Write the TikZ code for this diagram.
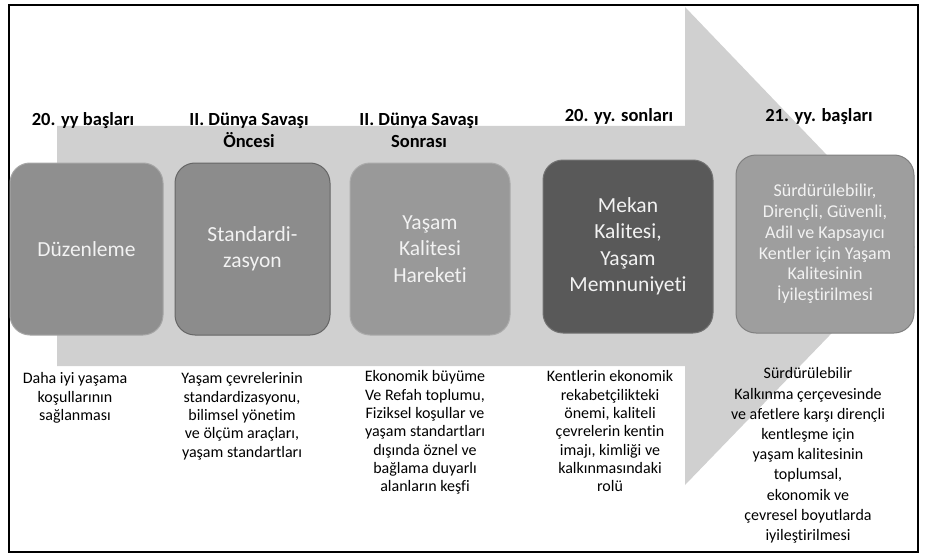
\documentclass[tikz,border=0pt]{standalone}
\usepackage{fontspec}
\setmainfont{Carlito}[Ligatures=NoCommon]
\usetikzlibrary{calc}
\definecolor{bggray}{RGB}{208,208,208}
\definecolor{boxtext}{RGB}{242,242,242}

\begin{document}
\begin{tikzpicture}[x=1pt, y=-1pt,
  box/.style={rounded corners=20pt, line width=1pt, align=center, text=boxtext,
    inner sep=0pt, font=\fontsize{21.5}{26.5}\selectfont},
  head/.style={anchor=north, align=center, inner sep=0pt,
    font=\fontsize{18.5}{22}\selectfont\bfseries},
  desc/.style={anchor=north, align=center, inner sep=0pt,
    font=\fontsize{16}{18.3}\selectfont}]

\useasboundingbox (0,0) rectangle (926,559);
\draw[line width=2pt] (8.5,5.5) rectangle (917.5,551.5);

% big arrow
\fill[bggray] (57,126) -- (685,126) -- (685,7) -- (915,247) -- (685,485)
  -- (685,366) -- (57,366) -- cycle;

\node[head] (h1) at (83,112) {20. yy başları};
\node[head] (h2) at (249,113) {II. Dünya Savaşı\\Öncesi};
\node[head] (h3) at (419,113) {II. Dünya Savaşı\\Sonrası};
\node[head] (h4) at (619,108) {20. yy. sonları};
\node[head] (h5) at (819,108) {21. yy. başları};

\node[box, fill=black!44, draw=black!35, minimum width=153pt, minimum height=172pt]
  (b1) at (86.5,249) {Düzenleme};
\node[box, fill=black!45, draw=black!60, minimum width=155pt, minimum height=172pt]
  (b2) at (252.5,249) {Standardi-\\zasyon};
\node[box, fill=black!40, draw=black!33, minimum width=160pt, minimum height=172pt]
  (b3) at (430,249) {Yaşam\\Kalitesi\\Hareketi};
\node[box, fill=black!65, draw=black!55, minimum width=170pt, minimum height=173pt]
  (b4) at (628,246.5) {Mekan\\Kalitesi,\\Yaşam\\Memnuniyeti};
\node[box, fill=black!38, draw=black!50, minimum width=178pt, minimum height=178pt,
  font=\fontsize{18}{20.8}\selectfont]
  (b5) at (825,244) {Sürdürülebilir,\\Dirençli, Güvenli,\\Adil ve Kapsayıcı\\Kentler için Yaşam\\Kalitesinin\\İyileştirilmesi};

\node[desc] (d1) at (75,372.5) {Daha iyi yaşama\\koşullarının\\sağlanması};
\node[desc] (d2) at (242,372.5) {Yaşam çevrelerinin\\standardizasyonu,\\bilimsel yönetim\\ve ölçüm araçları,\\yaşam standartları};
\node[desc] (d3) at (425,370.5) {Ekonomik büyüme\\Ve Refah toplumu,\\Fiziksel koşullar ve\\yaşam standartları\\dışında öznel ve\\bağlama duyarlı\\alanların keşfi};
\node[desc] (d4) at (610,370.5) {Kentlerin ekonomik\\rekabetçilikteki\\önemi, kaliteli\\çevrelerin kentin\\imajı, kimliği ve\\kalkınmasındaki\\rolü};
\node[desc, font=\fontsize{16}{20.2}\selectfont] (d5) at (808,367.5) {Sürdürülebilir\\Kalkınma çerçevesinde\\ve afetlere karşı dirençli\\kentleşme için\\yaşam kalitesinin\\toplumsal,\\ekonomik ve\\çevresel boyutlarda\\iyileştirilmesi};

\end{tikzpicture}
\end{document}
